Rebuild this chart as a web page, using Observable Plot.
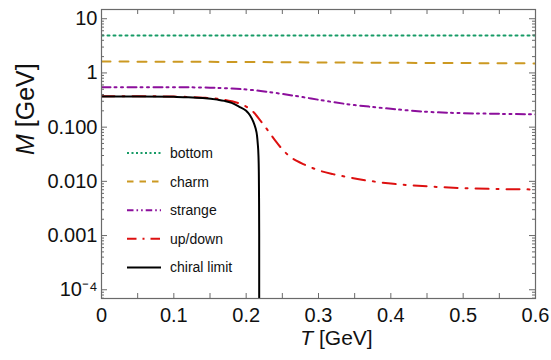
<!DOCTYPE html>
<html>
<head>
<meta charset="utf-8">
<script src="https://cdn.jsdelivr.net/npm/d3@7"></script>
<script src="https://cdn.jsdelivr.net/npm/@observablehq/plot@0.6"></script>
<style>
  html, body { margin: 0; padding: 0; background: #fff; }
  #chart { width: 551px; height: 360px; }
  svg { font-family: "Liberation Sans", Arial, sans-serif; }
</style>
</head>
<body>
<div id="chart"></div>
<script>
// ---- data ----
const bottomT = [0, 0.3, 0.6];
const bottomM = [4.9, 4.9, 4.9];

const charmT = [0, 0.1, 0.2, 0.3, 0.4, 0.5, 0.6];
const charmM = [1.62, 1.61, 1.59, 1.56, 1.54, 1.52, 1.50];

const strangeT = [0, 0.05, 0.1, 0.15, 0.18, 0.2, 0.22, 0.25, 0.28, 0.3, 0.32, 0.35, 0.38, 0.4, 0.45, 0.5, 0.55, 0.6];
const strangeM = [0.547, 0.547, 0.545, 0.535, 0.515, 0.495, 0.465, 0.41, 0.355, 0.32, 0.29, 0.255, 0.232, 0.218, 0.192, 0.181, 0.176, 0.172];

const udT = [0, 0.05, 0.1, 0.14, 0.16, 0.18, 0.19, 0.2, 0.21, 0.22, 0.23, 0.24, 0.25, 0.26, 0.27, 0.28, 0.29, 0.3, 0.32, 0.34, 0.36, 0.38, 0.4, 0.45, 0.5, 0.55, 0.6];
const udM = [0.372, 0.371, 0.366, 0.35, 0.333, 0.3, 0.275, 0.24, 0.19, 0.13, 0.087, 0.057, 0.039, 0.029, 0.0238, 0.0205, 0.018, 0.016, 0.0136, 0.012, 0.0107, 0.0098, 0.0091, 0.0081, 0.0075, 0.0072, 0.0071];

const chiralT = [0, 0.05, 0.1, 0.12, 0.14, 0.16, 0.17, 0.18, 0.19, 0.2, 0.205, 0.21, 0.213, 0.215, 0.216, 0.217, 0.2175, 0.2178, 0.218, 0.21805];
const chiralM = [0.368, 0.367, 0.362, 0.357, 0.345, 0.322, 0.305, 0.28, 0.24, 0.2, 0.168, 0.125, 0.095, 0.07, 0.05, 0.03, 0.015, 0.005, 0.001, 1e-6];

const seriesNames = ["bottom", "charm", "strange", "up/down", "chiral limit"];
const seriesColors = ["#179b66", "#cc9922", "#8c0f9c", "#dd1010", "#000000"];
const seriesDash = ["2,4", "9,9", "9,4,2,4.5,2,4.5", "13,8,2,8", null];
const legendDash = ["2,2.5", "6.5,6", "6.5,3,1.6,3,1.6,3", "9.5,6,2,6", null];

const xTicks = [0, 0.1, 0.2, 0.3, 0.4, 0.5, 0.6];
const xTickLabels = ["0", "0.1", "0.2", "0.3", "0.4", "0.5", "0.6"];
const xMinor = [0.05, 0.15, 0.25, 0.35, 0.45, 0.55];
const yTicks = [10, 1, 0.1, 0.01, 0.001, 1e-4];
const yTickLabels = ["10", "1", "0.100", "0.010", "0.001", "10\u207B\u2074"];

// ---- build table ----
const tables = [
  [bottomT, bottomM], [charmT, charmM], [strangeT, strangeM], [udT, udM], [chiralT, chiralM]
];
const rows = tables.map(([T, M], i) => T.map((t, j) => ({T: t, M: M[j], s: seriesNames[i]})));

const W = 551, H = 360, mL = 101, mR = 16, mT = 9, mB = 62;
const fw = W - mL - mR, fh = H - mT - mB;
const yDomain = [6.9e-5, 14.8];

const yMinor = [];
for (let e = -5; e <= 1; e++) for (let k = 2; k <= 9; k++) {
  const v = k * Math.pow(10, e);
  if (v > yDomain[0] && v < yDomain[1]) yMinor.push(v);
}
const frameC = "#6a6a6a";

const lineMarks = rows.map((data, i) => Plot.line(data, {
  x: "T", y: "M", stroke: seriesColors[i], strokeWidth: 2,
  strokeDasharray: seriesDash[i], curve: "monotone-x", clip: true
}));

const chart = Plot.plot({
  width: W, height: H,
  marginLeft: mL, marginRight: mR, marginTop: mT, marginBottom: mB,
  style: {fontFamily: "'Liberation Sans', Arial, sans-serif", background: "#fff"},
  x: {domain: [0, 0.6]},
  y: {type: "log", domain: yDomain},
  marks: [
    ...lineMarks,
    // inward ticks
    Plot.tickX(xTicks.concat(xMinor), {x: d => d, insetTop: fh - 5, stroke: frameC}),
    Plot.tickX(xTicks.concat(xMinor), {x: d => d, insetBottom: fh - 5, stroke: frameC}),
    Plot.tickY(yTicks, {y: d => d, insetRight: fw - 6, stroke: frameC}),
    Plot.tickY(yTicks, {y: d => d, insetLeft: fw - 6, stroke: frameC}),
    Plot.tickY(yMinor, {y: d => d, insetRight: fw - 3, stroke: frameC}),
    Plot.tickY(yMinor, {y: d => d, insetLeft: fw - 3, stroke: frameC}),
    Plot.frame({stroke: frameC, strokeWidth: 1.2}),
    Plot.axisX(xTicks, {tickSize: 0, tickPadding: 9, label: null, fontSize: 20, fill: "#111",
      tickFormat: d => xTickLabels[xTicks.indexOf(d)]}),
    Plot.axisY(yTicks, {tickSize: 0, tickPadding: 4, label: null, fontSize: 20, fill: "#111",
      tickFormat: d => yTickLabels[yTicks.indexOf(d)]}),
    Plot.text(["T [GeV]"], {frameAnchor: "bottom", lineAnchor: "bottom", dx: 18, dy: 46, fontSize: 21, fill: "#111", text: d => d}),
    Plot.text(["M [GeV]"], {frameAnchor: "left", dx: -76, dy: 1, rotate: -90, fontSize: 25, fill: "#111", text: d => d})
  ]
});

// italic variable symbols in axis labels
d3.select(chart).selectAll("text").each(function() {
  const t = this.textContent;
  if (t === "T [GeV]" || t === "M [GeV]") {
    const sym = t[0];
    const el = d3.select(this);
    el.text(null);
    el.append("tspan").attr("font-style", "italic").text(sym);
    el.append("tspan").text(" [GeV]");
  }
});

// legend inside the frame
const lg = d3.select(chart).append("g").attr("class", "legend").attr("text-anchor", "start");
const legendY0 = 153, legendStep = 28.6, lx1 = 127, lx2 = 161, tx = 170;
seriesNames.forEach((name, i) => {
  const y = legendY0 + i * legendStep;
  lg.append("line").attr("x1", lx1).attr("x2", lx2).attr("y1", y).attr("y2", y)
    .attr("stroke", seriesColors[i]).attr("stroke-width", 2)
    .attr("stroke-dasharray", legendDash[i]);
  lg.append("text").attr("x", tx).attr("y", y).attr("dy", "0.35em")
    .attr("text-anchor", "start")
    .attr("font-size", 14).attr("fill", "#111").text(name);
});

document.getElementById("chart").appendChild(chart);
</script>
</body>
</html>
